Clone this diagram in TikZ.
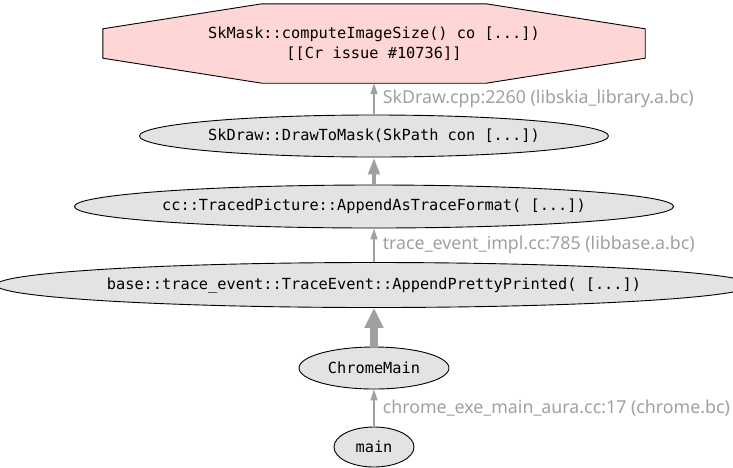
\documentclass[tikz,border=0pt]{standalone}
\usepackage{fontspec}
\setmonofont{DejaVu Sans Mono}
\newfontfamily\lblfont{Noto Sans}
\usepackage{tikz}
\usetikzlibrary{arrows,arrows.meta,shapes.geometric,positioning,backgrounds,calc}
\definecolor{edgegray}{HTML}{A0A0A0}
\definecolor{nodegray}{HTML}{E3E3E3}
\definecolor{hotpink}{HTML}{FFD6D6}

\begin{document}
\begin{tikzpicture}[x=1pt,y=-1pt,->,>={Triangle[length=11pt,width=7pt]},auto,
   fn/.style={draw, ellipse, fill=nodegray, line width=0.9pt, inner sep=0pt,
     font=\fontsize{15.3}{18}\selectfont\ttfamily},
   lbl/.style={right, inner sep=0pt, xshift=8pt, text=edgegray,
     font=\fontsize{17.8}{20}\selectfont\lblfont},
   call/.style={draw=edgegray, line width=1.5pt},
   hot/.style={draw=edgegray, line width=4.5pt, -{Triangle[length=17pt,width=11pt]}},
   hotter/.style={draw=edgegray, line width=8pt, -{Triangle[length=20pt,width=18pt]}}]
   \useasboundingbox (0,0) rectangle (733,467);
   \node[font=\fontsize{15.3}{20}\selectfont\ttfamily, align=center, minimum width=542pt, minimum height=79pt] (mask) at (374,43.5) {SkMask::computeImageSize() co [...])\\ {}[[Cr issue \#10736]]};
   \node[fn, minimum width=463pt, minimum height=42pt] (draw) at (374,136) {SkDraw::DrawToMask(SkPath con [...])};
   \node[fn, minimum width=582pt, minimum height=43pt] (traced) at (374,206.5) {cc::TracedPicture::AppendAsTraceFormat( [...])};
   \node[fn, minimum width=724pt, minimum height=45pt] (event) at (374,285) {base::trace\_event::TraceEvent::AppendPrettyPrinted( [...])};
   \node[fn, minimum width=150pt, minimum height=42pt] (chrome) at (374,368) {ChromeMain};
   \node[fn, minimum width=80pt, minimum height=40pt] (main) at (374,447) {main};
   % octagon behind the hot node
   \begin{scope}[on background layer]
   \draw[-, fill=hotpink, line width=0.9pt] ($(mask.north west)+(159,0)$) -- ($(mask.north east)+(-159,0)$)
     -- ($(mask.north east)+(0,25)$) -- ($(mask.south east)+(0,-25)$) -- ($(mask.south east)+(-159,0)$)
     -- ($(mask.south west)+(159,0)$) -- ($(mask.south west)+(0,-25)$) -- ($(mask.north west)+(0,25)$) -- cycle;
   \end{scope}
   \path (draw) edge[call] node[lbl] {SkDraw.cpp:2260 (libskia\_library.a.bc)} (mask);
   \path (traced) edge[hot] (draw);
   \path (event) edge[call] node[lbl] {trace\_event\_impl.cc:785 (libbase.a.bc)} (traced);
   \path (chrome) edge[hotter] (event);
   \path (main) edge[call] node[lbl] {chrome\_exe\_main\_aura.cc:17 (chrome.bc)} (chrome);
\end{tikzpicture}
\end{document}
